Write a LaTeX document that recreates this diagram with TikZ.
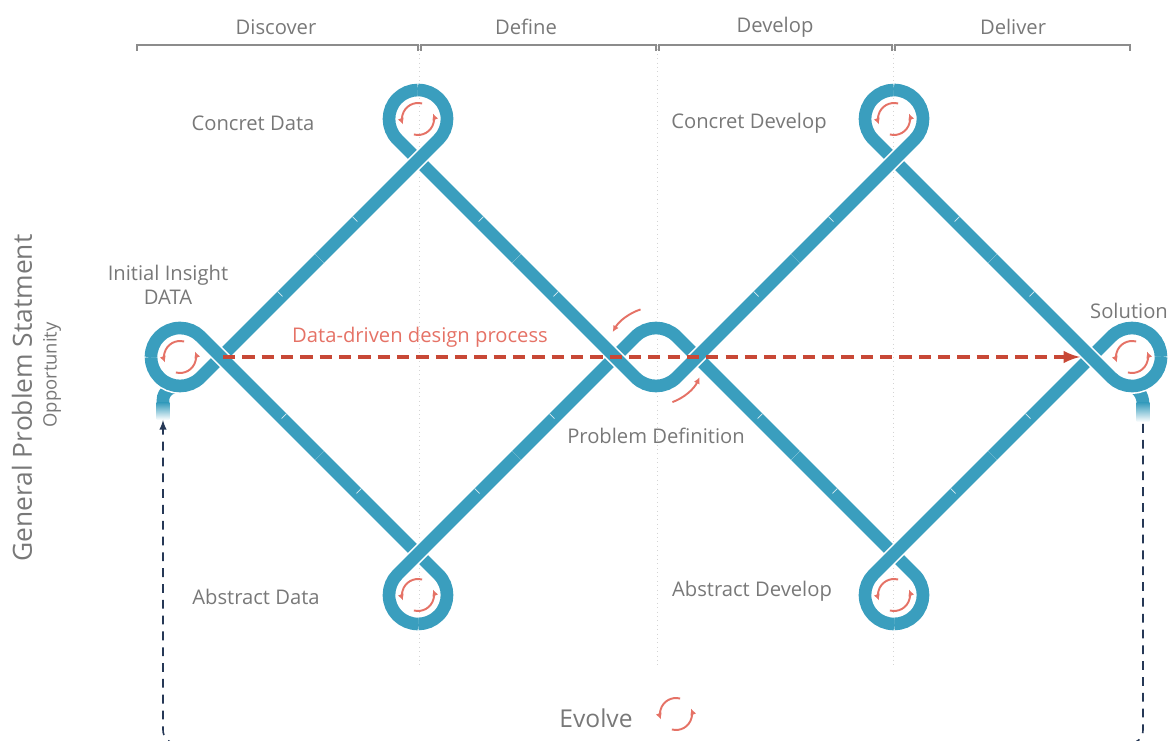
\documentclass[tikz,border=0pt]{standalone}
\usepackage{fontspec}
\setmainfont{Open Sans}
\usetikzlibrary{arrows.meta}
\definecolor{tubeblue}{RGB}{58,158,190}
\definecolor{arrowred}{RGB}{229,114,102}
\definecolor{flowred}{RGB}{200,72,54}
\definecolor{labelgrey}{RGB}{120,120,120}
\definecolor{bracketgrey}{RGB}{140,140,140}
\definecolor{guidegrey}{RGB}{212,212,212}
\definecolor{loopnavy}{RGB}{38,56,86}

\newcommand{\turnarrows}[2]{%
  \draw[turn] ([shift={(75:#2)}]#1) arc[start angle=75, end angle=200, radius=#2];
  \draw[turn] ([shift={(255:#2)}]#1) arc[start angle=255, end angle=380, radius=#2];}

\begin{document}
\begin{tikzpicture}[x=0.02cm, y=0.02cm,
    tube/.style={draw=tubeblue, line width=7.2pt, preaction={draw=white, line width=9pt}},
    joint/.style={draw=white!80!tubeblue, line width=0.4pt, inner sep=0pt, minimum height=4pt, minimum width=0pt, rectangle, yshift=1.6pt},
    turn/.style={arrowred, line width=1.1pt, -{Latex[length=3.6pt,width=3.6pt]}},
    stagetext/.style={text=labelgrey, font=\fontsize{11.5}{13}\selectfont},
    looptext/.style={text=labelgrey, font=\fontsize{11.5}{14}\selectfont, align=center},
    bracket/.style={bracketgrey, line width=1.4pt},
    guide/.style={guidegrey, line width=0.5pt, dotted}]
    \useasboundingbox (0,0) rectangle (1175,740);

    % Phase brackets and guides
    \foreach \gx in {419,657,893} \draw[guide] (\gx,695) -- (\gx,75);
    \foreach \a/\b in {137/418, 421/656, 659/892, 895/1130}
        \draw[bracket] (\a,689) -- (\a,695) -- (\b,695) -- (\b,689);
    \node[stagetext] (discover) at (276,713) {Discover};
    \node[stagetext] (define) at (526,713) {Define};
    \node[stagetext] (develop) at (775,713) {Develop};
    \node[stagetext] (deliver) at (1013,713) {Deliver};

    % Crossings and loop centres
    \coordinate (L1) at (221,383);
    \coordinate (T1) at (418,580);
    \coordinate (B1) at (418,186);
    \coordinate (ML) at (615,383);
    \coordinate (MR) at (697,383);
    \coordinate (T2) at (894,580);
    \coordinate (B2) at (894,186);
    \coordinate (R1) at (1091,383);
    \coordinate (CL) at (180,383);
    \coordinate (CT1) at (418,621);
    \coordinate (CB1) at (418,145);
    \coordinate (CM) at (656,383);
    \coordinate (CT2) at (894,621);
    \coordinate (CB2) at (894,145);
    \coordinate (CR) at (1132,383);
    \coordinate (mLT1) at (319.5,481.5);
    \coordinate (mLB1) at (319.5,284.5);
    \coordinate (mT1ML) at (516.5,481.5);
    \coordinate (mB1ML) at (516.5,284.5);
    \coordinate (mMRT2) at (795.5,481.5);
    \coordinate (mMRB2) at (795.5,284.5);
    \coordinate (mT2R1) at (992.5,481.5);
    \coordinate (mB2R1) at (992.5,284.5);

    % Stubs
    \coordinate (leftstub) at (163,320);
    \coordinate (rightstub) at (1143,316);
    \draw[tube] (163,336) -- (163,340) to[out=90,in=180] (180,354);
    \shade[top color=tubeblue, bottom color=white] (156.6,320) rectangle (169.4,337);
    \draw[tube] ([shift={(262:29)}]CR) to[out=-5,in=90] (1143,336) -- (1143,338);
    \shade[top color=tubeblue, bottom color=white] (1136.6,318) rectangle (1149.4,337);

    % Lower strands
    \draw[tube] (mLT1) -- (L1) -- ([shift={(-45:29)}]CL) arc[start angle=-45, end angle=-180, radius=29];
    \draw[tube] (mT1ML) -- (T1) -- ([shift={(225:29)}]CT1) arc[start angle=225, end angle=90, radius=29];
    \draw[tube] (mLB1) -- (B1) -- ([shift={(45:29)}]CB1) arc[start angle=45, end angle=-90, radius=29];
    \draw[tube] (mB1ML) -- (ML) -- ([shift={(135:29)}]CM) arc[start angle=135, end angle=45, radius=29] -- (MR) -- (mMRB2);
    \draw[tube] (mMRB2) -- (B2) -- ([shift={(45:29)}]CB2) arc[start angle=45, end angle=-90, radius=29];
    \draw[tube] (mB2R1) -- (R1) -- ([shift={(135:29)}]CR) arc[start angle=135, end angle=0, radius=29];
    \draw[tube] (mT2R1) -- (T2) -- ([shift={(225:29)}]CT2) arc[start angle=225, end angle=90, radius=29];

    % Upper strands
    \draw[tube] ([shift={(180:29)}]CL) arc[start angle=180, end angle=45, radius=29] -- (L1) -- (mLB1);
    \draw[tube] ([shift={(90:29)}]CT1) arc[start angle=90, end angle=-45, radius=29] -- (T1) -- (mLT1);
    \draw[tube] ([shift={(-90:29)}]CB1) arc[start angle=-90, end angle=-225, radius=29] -- (B1) -- (mB1ML);
    \draw[tube] ([shift={(-90:29)}]CB2) arc[start angle=-90, end angle=-225, radius=29] -- (B2) -- (mB2R1);
    \draw[tube] ([shift={(0:29)}]CR) arc[start angle=0, end angle=-135, radius=29] -- (R1) -- (mT2R1);
    \draw[tube] ([shift={(90:29)}]CT2) arc[start angle=90, end angle=-45, radius=29] -- (T2) -- (mMRT2);
    \draw[tube] (mMRT2) -- (MR) -- ([shift={(-45:29)}]CM) arc[start angle=-45, end angle=-135, radius=29] -- (ML) -- (mT1ML);

    % Joints on the straight runs
    \foreach \p/\q in {L1/T1, T1/ML, L1/B1, B1/ML, MR/T2, T2/R1, MR/B2, B2/R1}
        \path (\p) -- (\q) node[joint, sloped, pos=0.31] {} node[joint, sloped, pos=0.69] {};

    % Turn arrows
    \turnarrows{CL}{16}
    \turnarrows{CT1}{16}
    \turnarrows{CB1}{16}
    \turnarrows{CT2}{16}
    \turnarrows{CB2}{16}
    \turnarrows{CR}{16}
    \draw[turn] ([shift={(108:50)}]CM) arc[start angle=108, end angle=150, radius=50];
    \draw[turn] ([shift={(-70:48)}]CM) arc[start angle=-70, end angle=-25, radius=48];

    % Data-driven flow
    \coordinate (flowstart) at (223,383);
    \coordinate (flowend) at (1080,383);
    \draw[flowred, line width=2.2pt, dash pattern=on 7pt off 4pt, -latex] (flowstart) -- (flowend);
    \node[text=arrowred, font=\fontsize{11.5}{13}\selectfont] (flowtext) at (420,403) {Data-driven design process};

    % Loop labels
    \node[looptext] (concretdata) at (253,617) {Concret Data};
    \node[looptext] (initial) at (168,455) {Initial Insight\\DATA};
    \node[looptext] (abstractdata) at (256,143) {Abstract Data};
    \node[looptext] (concretdevelop) at (749,617) {Concret Develop};
    \node[looptext] (abstractdevelop) at (752,149) {Abstract Develop};
    \node[looptext] (problem) at (656,304) {Problem Definition};
    \node[looptext] (solution) at (1129,429) {Solution};

    % Side labels
    \node[text=labelgrey, font=\fontsize{15}{17}\selectfont, rotate=90] (general) at (22,342) {General Problem Statment};
    \node[text=labelgrey, font=\fontsize{10.5}{12}\selectfont, rotate=90] (opportunity) at (52,365) {Opportunity};

    % Evolve loop
    \draw[loopnavy, line width=0.9pt, dash pattern=on 5pt off 4pt, rounded corners=8pt, -latex]
        (rightstub) -- (1143,-4) -- (163,-4) -- (leftstub);
    \node[text=labelgrey, font=\fontsize{14}{16}\selectfont] (evolve) at (596,22) {Evolve};
    \coordinate (evolvemark) at (676,26);
    \turnarrows{evolvemark}{16}
\end{tikzpicture}
\end{document}
